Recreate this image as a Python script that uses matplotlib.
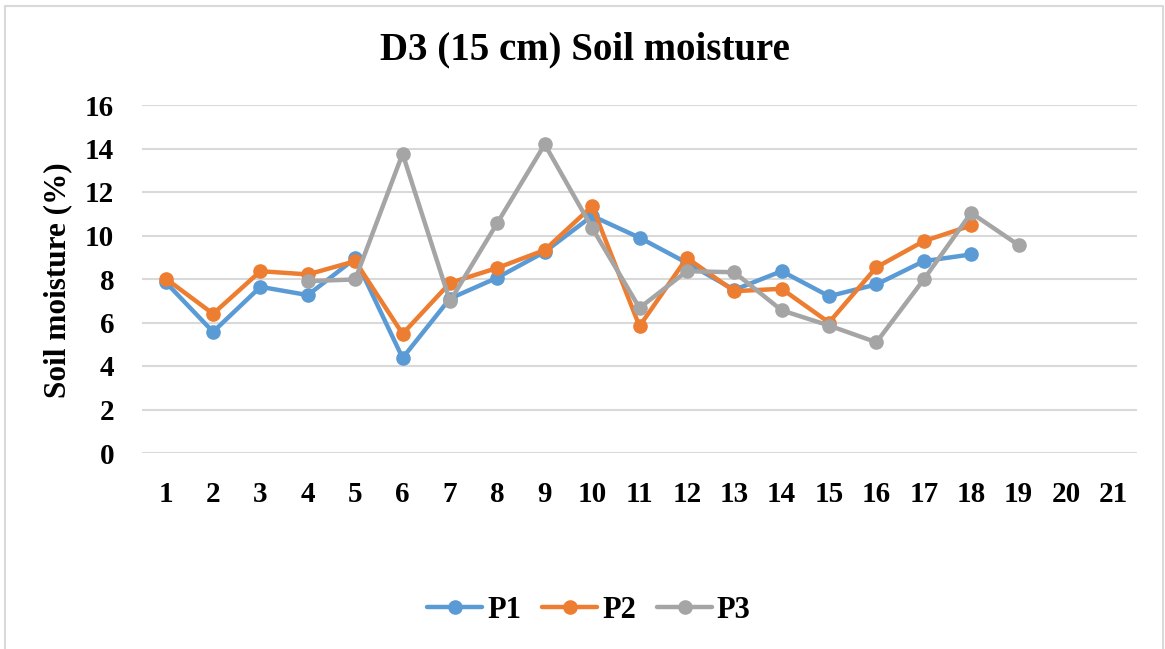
import matplotlib
matplotlib.use("Agg")
import matplotlib.pyplot as plt
import numpy as np

categories = list(range(1, 22))
p1_x = list(range(1, 19))
p1 = [7.85, 5.57, 7.64, 7.26, 8.95, 4.37, 7.1, 8.06, 9.25, 10.9, 9.9, 8.74, 7.5, 8.36, 7.21, 7.75, 8.82, 9.13]
p2_x = list(range(1, 19))
p2 = [8.02, 6.40, 8.36, 8.21, 8.82, 5.48, 7.82, 8.51, 9.33, 11.35, 5.83, 8.97, 7.44, 7.55, 6.0, 8.54, 9.74, 10.46]
p3_x = list(range(4, 20))
p3 = [7.9, 7.98, 13.76, 6.98, 10.58, 14.19, 10.35, 6.67, 8.36, 8.31, 6.56, 5.86, 5.09, 7.98, 11.04, 9.56]
series_names = ["P1", "P2", "P3"]
colors = ["#5B9BD5", "#ED7D31", "#A5A5A5"]
yticks = list(range(0, 17, 2))

plt.rcParams['font.family'] = ['Liberation Serif', 'DejaVu Serif']
plt.rcParams['font.weight'] = 'bold'

fig = plt.figure(figsize=(11.65, 6.49), dpi=100)
ax = fig.add_axes([142/1165, 1 - 453/649, (1137-142)/1165, (453-105)/649])

for xs, ys, c, n in zip([p1_x, p2_x, p3_x], [p1, p2, p3], colors, series_names):
    ax.plot(xs, ys, color=c, lw=3.2, marker='o', ms=9.5, label=n,
            solid_joinstyle='round', solid_capstyle='round', zorder=3)

ax.set_xlim(0.5, len(categories) + 0.5)
ax.set_ylim(0, 16)
ax.set_yticks(yticks)
ax.set_xticks(categories)
ax.set_xticklabels([str(c) for c in categories])
ax.grid(axis='y', color='#D9D9D9', lw=1.5)
ax.set_axisbelow(True)
for s in ax.spines.values():
    s.set_visible(False)
ax.tick_params(axis='both', length=0, labelsize=21)
ax.tick_params(axis='y', pad=20)
ax.tick_params(axis='x', pad=20)
for lbl in ax.get_xticklabels() + ax.get_yticklabels():
    lbl.set_fontweight('bold')

fig.text(58/1165, 1 - 280/649, "Soil moisture (%)", rotation=90, ha='center', va='center',
         fontsize=22.5, fontweight='bold')
fig.text(585/1165, 1 - 50/649, "D3 (15 cm) Soil moisture", ha='center', va='center',
         fontsize=28, fontweight='bold')

leg = fig.legend(loc='center', bbox_to_anchor=(589/1165, 1 - 610/649), ncol=3, frameon=False,
                 prop={'size': 22, 'weight': 'bold'}, handlelength=1.8, handletextpad=0.15,
                 columnspacing=0.7)

# outer border
border = plt.Rectangle((5/1165, -0.01), (1163-5)/1165, 1 - 6/649 + 0.01, transform=fig.transFigure,
                       fill=False, edgecolor='#D9D9D9', lw=1.5)
fig.patches.append(border)

fig.savefig("out.png", dpi=100)
